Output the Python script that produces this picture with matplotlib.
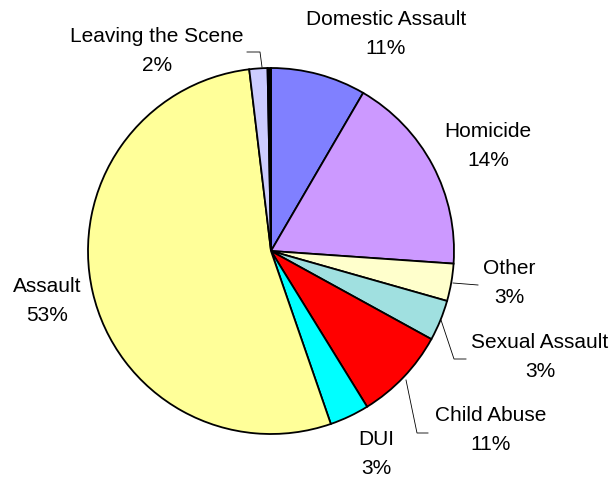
import matplotlib
matplotlib.use("Agg")
import matplotlib.pyplot as plt

categories = ["Domestic Assault", "Homicide", "Other", "Sexual Assault",
              "Child Abuse", "DUI", "Assault", "Leaving the Scene", ""]
slice_values = [8.4, 17.7, 3.3, 3.6, 8.2, 3.5, 53.4, 1.6, 0.3]
pct_labels = ["11%", "14%", "3%", "3%", "11%", "3%", "53%", "2%", ""]
colors = ["#8080FF", "#CC99FF", "#FFFFCC", "#A0E0E0", "#FF0000",
          "#00FFFF", "#FFFF99", "#CCCCFF", "#000000"]

W, H = 616, 483
CX, CY, R = 271, 251, 183

fig = plt.figure(figsize=(W / 100, H / 100), dpi=100)
ax = fig.add_axes([0, 0, 1, 1])
ax.pie(slice_values, colors=colors, startangle=90, counterclock=False,
       radius=1.0, center=(0, 0),
       wedgeprops=dict(edgecolor="black", linewidth=1.3))
ax.set_xlim(-CX / R, (W - CX) / R)
ax.set_ylim(-(H - CY) / R, CY / R)
ax.axis("off")


def P(px, py):
    return ((px - CX) / R, (CY - py) / R)


# label centre positions (pixel coordinates of the two-line block centre)
label_pos = {
    "Domestic Assault": (386, 34),
    "Homicide": (488, 146),
    "Other": (509, 283),
    "Sexual Assault": (540, 357),
    "Child Abuse": (491, 430),
    "DUI": (376, 454),
    "Assault": (47, 301),
    "Leaving the Scene": (157, 51),
}

for cat, pct in zip(categories, pct_labels):
    if not cat:
        continue
    x, y = P(*label_pos[cat])
    ax.text(x, y, f"{cat}\n{pct}", ha="center", va="center",
            fontsize=15, family=["Liberation Sans", "DejaVu Sans"],
            linespacing=1.65, color="black")

leaders = [
    [(247, 52), (260, 52), (262, 67)],
    [(453, 283), (478, 285)],
    [(441, 320), (454, 359), (466, 359)],
    [(406, 380), (417, 433), (428, 433)],
]
for pts in leaders:
    xs, ys = zip(*[P(*p) for p in pts])
    ax.plot(xs, ys, color="black", linewidth=0.6)

fig.savefig("out.png", dpi=100)
